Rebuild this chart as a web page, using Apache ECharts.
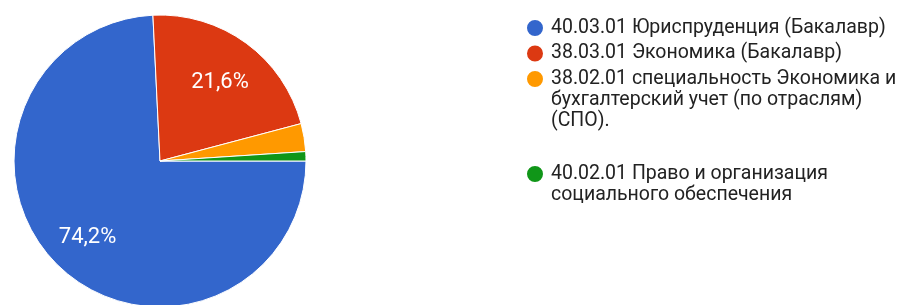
<!DOCTYPE html>
<html>
<head>
    <meta charset="UTF-8">
    <title>Направления подготовки</title>
    <script type="text/javascript" src="https://cdn.jsdelivr.net/npm/echarts@6/dist/echarts.min.js"></script>
    <style>
        html, body { margin: 0; padding: 0; background: #fff; }
        #main { width: 900px; height: 305px; }
    </style>
</head>
<body>
<div id="main"></div>
<script type="text/javascript">
    // ответы по направлениям
    var names = [
        '40.03.01 Юриспруденция (Бакалавр)',
        '38.03.01 Экономика (Бакалавр)',
        '38.02.01 специальность Экономика и\nбухгалтерский учет (по отраслям)\n(СПО).',
        '40.02.01 Право и организация\nсоциального обеспечения'
    ];
    var counts = [72, 21, 3, 1];
    var colors = ['#3366cc', '#dc3912', '#ff9900', '#109618'];

    var total = counts.reduce(function (a, b) { return a + b; }, 0);
    var lineH = 21;
    var firstLineY = [28, 53.5, 79, 174];
    var labelShift = [[0, 0], [-2, 6], [0, 0], [0, 0]];

    var data = [];
    for (var i = 0; i < names.length; i++) {
        data.push({ name: names[i], value: counts[i], itemStyle: { color: colors[i] } });
    }

    // отдельная легенда на каждый пункт, чтобы кружок стоял у первой строки
    var legends = [];
    for (var j = 0; j < names.length; j++) {
        var n = names[j].split('\n').length;
        legends.push({
            orient: 'vertical',
            left: 525,
            top: firstLineY[j] - (2 * n - 1) * lineH / 2,
            padding: 0,
            icon: 'circle',
            itemWidth: 22,
            itemHeight: 18,
            selectedMode: false,
            data: [names[j]],
            formatter: function (name) {
                var k = name.split('\n').length;
                // пустые строки сверху, чтобы первая строка была на уровне кружка
                return new Array(k).join('\n') + name;
            },
            textStyle: {
                fontFamily: 'Roboto',
                fontSize: 19.5,
                lineHeight: lineH,
                color: '#222'
            }
        });
    }

    var myChart = echarts.init(document.getElementById('main'), null, { renderer: 'canvas' });
    myChart.setOption({
        animation: false,
        legend: legends,
        series: [{
            type: 'pie',
            center: [160, 161],
            radius: [0, 146],
            startAngle: 0,
            clockwise: true,
            avoidLabelOverlap: false,
            silent: true,
            label: { show: false },
            labelLine: { show: false },
            itemStyle: { borderColor: '#fff', borderWidth: 1 },
            data: data
        }, {
            // подписи процентов
            type: 'pie',
            center: [160, 161],
            radius: [58, 146],
            startAngle: 0,
            clockwise: true,
            avoidLabelOverlap: false,
            silent: true,
            itemStyle: { color: 'rgba(0,0,0,0)' },
            labelLine: { show: false },
            label: {
                show: true,
                position: 'inside',
                fontFamily: 'Roboto',
                fontSize: 22,
                color: '#fff',
                formatter: function (p) {
                    var pct = p.value / total * 100;
                    return pct >= 5 ? pct.toFixed(1).replace('.', ',') + '%' : '';
                }
            },
            data: data.map(function (d, k) {
                return { name: d.name, value: d.value, label: { offset: labelShift[k] } };
            })
        }]
    });
</script>
</body>
</html>
